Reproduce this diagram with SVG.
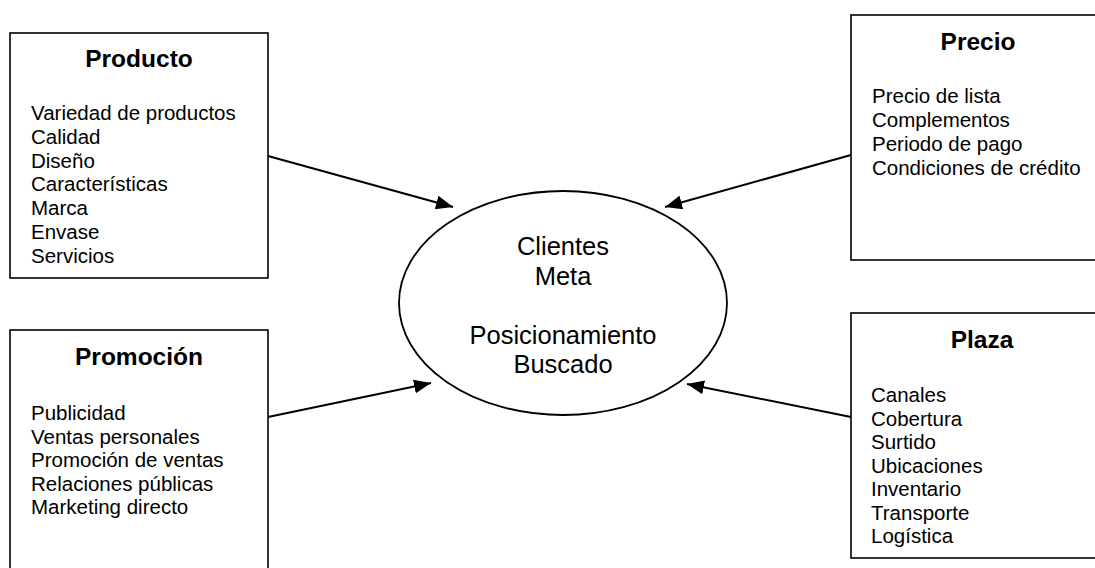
<svg xmlns="http://www.w3.org/2000/svg" width="1095" height="568" viewBox="0 0 1095 568">
<defs>
<style>
.box{fill:#fff;stroke:#000;stroke-width:1.6}
.title{font-family:"Liberation Sans",Arial,sans-serif;font-weight:bold;font-size:24.5px;fill:#000;text-anchor:middle}
.item{font-family:"Liberation Sans",Arial,sans-serif;font-size:20.5px;fill:#000}
.center{font-family:"Liberation Sans",Arial,sans-serif;font-size:25.5px;fill:#000;text-anchor:middle}
.conn{stroke:#000;stroke-width:2;fill:none;marker-end:url(#arr)}
</style>
<marker id="arr" markerUnits="userSpaceOnUse" markerWidth="18" markerHeight="14" refX="17" refY="7" orient="auto">
<path d="M0,0 L17,7 L0,14 Z" fill="#000"/>
</marker>
</defs>
<rect width="1095" height="568" fill="#fff"/>
<g id="producto">
<rect class="box" x="10" y="33" width="258" height="245"/>
<text class="title" x="139" y="67">Producto</text>
<text class="item" x="31" y="120">Variedad de productos</text>
<text class="item" x="31" y="143.8">Calidad</text>
<text class="item" x="31" y="167.6">Diseño</text>
<text class="item" x="31" y="191.4">Características</text>
<text class="item" x="31" y="215.2">Marca</text>
<text class="item" x="31" y="239">Envase</text>
<text class="item" x="31" y="262.8">Servicios</text>
</g>
<g id="precio">
<rect class="box" x="851" y="15" width="260" height="245"/>
<text class="title" x="978" y="50">Precio</text>
<text class="item" x="872" y="103">Precio de lista</text>
<text class="item" x="872" y="127">Complementos</text>
<text class="item" x="872" y="151">Periodo de pago</text>
<text class="item" x="872" y="175">Condiciones de crédito</text>
</g>
<g id="promocion">
<rect class="box" x="10" y="330" width="258" height="260"/>
<text class="title" x="139" y="365">Promoción</text>
<text class="item" x="31" y="420">Publicidad</text>
<text class="item" x="31" y="443.5">Ventas personales</text>
<text class="item" x="31" y="467">Promoción de ventas</text>
<text class="item" x="31" y="490.5">Relaciones públicas</text>
<text class="item" x="31" y="514">Marketing directo</text>
</g>
<g id="plaza">
<rect class="box" x="851" y="313" width="260" height="245"/>
<text class="title" x="982" y="348">Plaza</text>
<text class="item" x="871" y="402">Canales</text>
<text class="item" x="871" y="425.5">Cobertura</text>
<text class="item" x="871" y="449">Surtido</text>
<text class="item" x="871" y="472.5">Ubicaciones</text>
<text class="item" x="871" y="496">Inventario</text>
<text class="item" x="871" y="519.5">Transporte</text>
<text class="item" x="871" y="543">Logística</text>
</g>
<g id="clientes">
<ellipse cx="563" cy="303" rx="164" ry="112" fill="#fff" stroke="#000" stroke-width="1.8"/>
<text class="center" x="563" y="255">Clientes</text>
<text class="center" x="563" y="284.5">Meta</text>
<text class="center" x="563" y="343.5">Posicionamiento</text>
<text class="center" x="563" y="373">Buscado</text>
</g>
<g id="connectors">
<line class="conn" x1="268" y1="156" x2="453" y2="207"/>
<line class="conn" x1="851" y1="155" x2="665" y2="207"/>
<line class="conn" x1="268" y1="417" x2="431" y2="383"/>
<line class="conn" x1="851" y1="417" x2="687" y2="384"/>
</g>
</svg>
